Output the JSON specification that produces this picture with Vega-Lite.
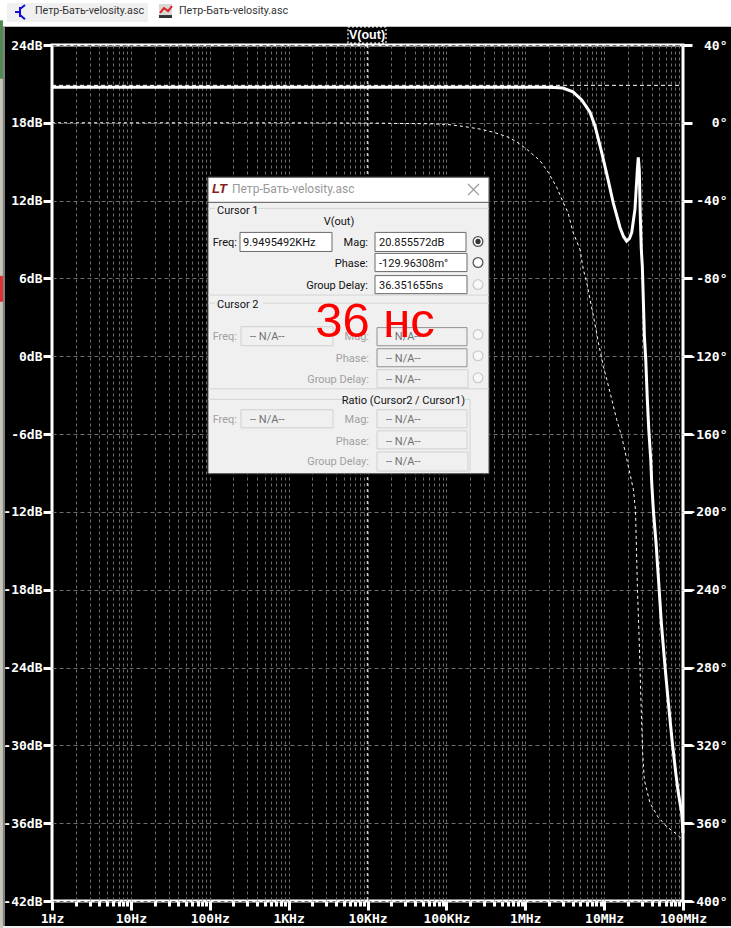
{
"$schema":"https://vega.github.io/schema/vega-lite/v6.json",
"width":631,"height":856,
"padding":{"left":52,"top":45,"right":48,"bottom":27},
"autosize":{"type":"none"},
"background":"#000000",
"config":{"view":{"stroke":"#ffffff","strokeWidth":3}},
"resolve":{"scale":{"y":"independent"},"axis":{"y":"independent"}},
"layer":[
{"resolve":{"axis":{"x":"independent","y":"independent"}},
"encoding":{
 "x":{"field":"f","type":"quantitative","scale":{"type":"log","domain":[1,100000000]},"axis":null},
 "y":{"field":"db","type":"quantitative","scale":{"domain":[-42,24]},"axis":null}},
"layer":[
{"data":{"values":[
{"f":1,"db":20.74},{"f":10,"db":20.74},{"f":100,"db":20.74},{"f":1000,"db":20.74},{"f":10000,"db":20.74},{"f":100000,"db":20.74},{"f":1000000,"db":20.74},{"f":1780000,"db":20.74},{"f":2380000,"db":20.72},{"f":3010000,"db":20.68},{"f":4030000,"db":20.39},{"f":5200000,"db":19.77},{"f":6620000,"db":18.82},{"f":7660000,"db":17.76},{"f":9310000,"db":15.73},{"f":11200000,"db":13.64},{"f":13000000,"db":11.87},{"f":15900000,"db":9.93},{"f":17600000,"db":9.24},{"f":19300000,"db":8.88},{"f":21000000,"db":9.09},{"f":22400000,"db":9.55},{"f":24600000,"db":11.33},{"f":26400000,"db":14.42},{"f":27100000,"db":15.34},{"f":27900000,"db":14.42},{"f":28700000,"db":10.95},{"f":29600000,"db":8.25},{"f":30500000,"db":6.94},{"f":31400000,"db":4.39},{"f":32400000,"db":1.54},{"f":33700000,"db":-0.24},{"f":35300000,"db":-3.33},{"f":36800000,"db":-5.64},{"f":39000000,"db":-7.96},{"f":40100000,"db":-9.73},{"f":42100000,"db":-11.89},{"f":45500000,"db":-14.36},{"f":49200000,"db":-17.45},{"f":53100000,"db":-20.54},{"f":59200000,"db":-23.94},{"f":65200000,"db":-26.71},{"f":73200000,"db":-29.8},{"f":81500000,"db":-32.27},{"f":87200000,"db":-33.66},{"f":96200000,"db":-35.2},{"f":100000000,"db":-36.75}]},
"mark":{"type":"line","color":"#ffffff","strokeWidth":3,"clip":false},
"encoding":{
 "x":{"field":"f","type":"quantitative","scale":{"type":"log","domain":[1,100000000]},
  "axis":{"orient":"bottom","title":null,"values":[2,3,4,5,6,7,8,9,10,20,30,40,50,60,70,80,90,100,200,300,400,500,600,700,800,900,1000,2000,3000,4000,5000,6000,7000,8000,9000,10000,20000,30000,40000,50000,60000,70000,80000,90000,100000,200000,300000,400000,500000,600000,700000,800000,900000,1000000,2000000,3000000,4000000,5000000,6000000,7000000,8000000,9000000,10000000,20000000,30000000,40000000,50000000,60000000,70000000,80000000,90000000],"labels":false,"domain":false,"grid":true,"gridColor":"#6e6e6e","gridDash":[3,3],"gridWidth":1,"tickColor":"#ffffff","tickWidth":3,"tickSize":5}},
 "y":{"field":"db","type":"quantitative","scale":{"domain":[-42,24]},
  "axis":{"orient":"left","title":null,"values":[24,18,12,6,0,-6,-12,-18,-24,-30,-36,-42],"labelExpr":"datum.value+'dB'","labelColor":"#ffffff","labelFont":"DejaVu Sans Mono","labelFontWeight":"bold","labelFontSize":13,"labelPadding":1,"labelOverlap":false,"labelFlush":false,"domain":false,"grid":true,"gridColor":"#6e6e6e","gridDash":[4,3],"gridWidth":1,"tickColor":"#ffffff","tickWidth":3,"tickSize":9}}}},
{"data":{"values":[{"f":1,"f2":100000000,"db":20.89}]},
"mark":{"type":"rule","color":"#ffffff","strokeWidth":1,"strokeDash":[4,3]},
"encoding":{
 "x":{"field":"f","type":"quantitative","scale":{"type":"log","domain":[1,100000000]},
  "axis":{"orient":"bottom","title":null,"values":[1,10,100,1000,10000,100000,1000000,10000000,100000000],"labelExpr":"datum.value<1000?datum.value+'Hz':datum.value<1000000?(datum.value/1000)+'KHz':(datum.value/1000000)+'MHz'","labelColor":"#ffffff","labelFont":"DejaVu Sans Mono","labelFontWeight":"bold","labelFontSize":13,"labelPadding":2,"labelOverlap":false,"labelFlush":false,"labelBound":false,"domain":false,"grid":false,"tickColor":"#ffffff","tickWidth":3,"tickSize":9}},
 "x2":{"field":"f2"}}},
{"data":{"values":[{"f":9949.5,"db":24,"db2":-42}]},
"mark":{"type":"rule","color":"#ffffff","strokeWidth":1,"strokeDash":[3,3]},
"encoding":{"y2":{"field":"db2"}}},
{"data":{"values":[{"f":0.219,"f2":406000000,"db":27.47,"db2":25.41}]},
"mark":{"type":"rect","fill":"#ffffff"},"encoding":{"x2":{"field":"f2"},"y2":{"field":"db2"}}},
{"data":{"values":[{"f":0.2688,"f2":16.5,"db":27.24,"db2":25.77},{"f":0.219,"f2":406000000,"db":-43.93,"db2":-44.1}]},
"mark":{"type":"rect","fill":"#f0f0f0"},"encoding":{"x2":{"field":"f2"},"y2":{"field":"db2"}}},
{"data":{"values":[{"f":0.219,"f2":0.239,"db":25.41,"db2":-44.1}]},
"mark":{"type":"rect","fill":"#c9c5b8"},"encoding":{"x2":{"field":"f2"},"y2":{"field":"db2"}}},
{"data":{"values":[{"f":0.239,"f2":0.2536,"db":25.41,"db2":-43.93}]},
"mark":{"type":"rect","fill":"#808080"},"encoding":{"x2":{"field":"f2"},"y2":{"field":"db2"}}},
{"data":{"values":[{"f":0.219,"f2":0.239,"db":25.9,"db2":21.4}]},
"mark":{"type":"rect","fill":"#4f8a4f"},"encoding":{"x2":{"field":"f2"},"y2":{"field":"db2"}}},
{"data":{"values":[{"f":0.219,"f2":0.239,"db":6.2,"db2":4.2}]},
"mark":{"type":"rect","fill":"#e03030"},"encoding":{"x2":{"field":"f2"},"y2":{"field":"db2"}}},
{"data":{"values":[{"f":22.7,"f2":33.2,"db":27.16,"db2":26.31}]},
"mark":{"type":"rect","fill":"#d8d8d8"},"encoding":{"x2":{"field":"f2"},"y2":{"field":"db2"}}},
{"data":{"values":[{"f":22.7,"f2":33.2,"db":26.31,"db2":26.08}]},
"mark":{"type":"rect","fill":"#333333"},"encoding":{"x2":{"field":"f2"},"y2":{"field":"db2"}}},
{"data":{"values":[{"f":23.4,"db":26.47},{"f":26.3,"db":26.85},{"f":29.6,"db":26.62},{"f":33.2,"db":27.0}]},
"mark":{"type":"line","color":"#e02020","strokeWidth":2}},
{"data":{"values":[{"f":0.393,"f2":0.393,"db":26.93,"db2":26.16},{"f":0.3396,"f2":0.393,"db":26.54,"db2":26.54},{"f":0.393,"f2":0.4547,"db":26.78,"db2":27.08},{"f":0.393,"f2":0.4547,"db":26.31,"db2":25.98}]},
"mark":{"type":"rule","color":"#1010d0","strokeWidth":2},"encoding":{"x2":{"field":"f2"},"y2":{"field":"db2"}}},
{"data":{"values":[{"f":0.6088,"db":26.62,"t":"Петр-Бать-velosity.asc"},{"f":40.75,"db":26.62,"t":"Петр-Бать-velosity.asc"}]},
"mark":{"type":"text","align":"left","baseline":"middle","font":"Roboto","fontSize":10.7,"color":"#333333"},"encoding":{"text":{"field":"t"}}},
{"data":{"values":[{"f":5660,"f2":17160,"db":25.39,"db2":24.15}]},
"mark":{"type":"rect","fill":"#000000","stroke":"#ffffff","strokeWidth":1.2,"strokeDash":[2,2]},"encoding":{"x2":{"field":"f2"},"y2":{"field":"db2"}}},
{"data":{"values":[{"f":9856,"db":24.75,"t":"V(out)"}]},
"mark":{"type":"text","align":"center","baseline":"middle","font":"Liberation Sans","fontWeight":"bold","fontSize":12.5,"color":"#ffffff"},"encoding":{"text":{"field":"t"}}},
{"data":{"values":[{"f":95,"f2":347000,"db":13.8,"db2":-9.05}]},
"mark":{"type":"rect","fill":"#f0f0f0","stroke":"#555555","strokeWidth":1},"encoding":{"x2":{"field":"f2"},"y2":{"field":"db2"}}},
{"data":{"values":[{"f":95,"f2":347000,"db":13.8,"db2":11.87}]},
"mark":{"type":"rect","fill":"#ffffff","stroke":"#555555","strokeWidth":1},"encoding":{"x2":{"field":"f2"},"y2":{"field":"db2"}}},
{"data":{"values":[
{"f":95,"f2":116.6,"db":11.4,"db2":11.4},{"f":409,"f2":347000,"db":11.4,"db2":11.4},
{"f":95,"f2":347000,"db":4.72,"db2":4.72},
{"f":95,"f2":116.6,"db":4.1,"db2":4.1},{"f":473,"f2":347000,"db":4.1,"db2":4.1},
{"f":95,"f2":347000,"db":-2.51,"db2":-2.51},
{"f":95,"f2":4891,"db":-3.32,"db2":-3.32},{"f":172300,"f2":199300,"db":-3.32,"db2":-3.32},
{"f":199300,"f2":199300,"db":-3.32,"db2":-8.92}]},
"mark":{"type":"rule","color":"#d4d4d4","strokeWidth":1},"encoding":{"x2":{"field":"f2"},"y2":{"field":"db2"}}},
{"data":{"values":[{"f":188000,"f2":259000,"db":13.28,"db2":12.43},{"f":188000,"f2":259000,"db":12.43,"db2":13.28}]},
"mark":{"type":"rule","color":"#999999","strokeWidth":1.2},"encoding":{"x2":{"field":"f2"},"y2":{"field":"db2"}}},
{"data":{"values":[
{"f":241.8,"f2":3547,"db":9.55,"db2":8.08},{"f":12450,"f2":177400,"db":9.55,"db2":8.08},{"f":12450,"f2":182600,"db":7.93,"db2":6.53},{"f":12450,"f2":182600,"db":6.22,"db2":4.83}]},
"mark":{"type":"rect","fill":"#ffffff","stroke":"#6b6b6b","strokeWidth":1},"encoding":{"x2":{"field":"f2"},"y2":{"field":"db2"}}},
{"data":{"values":[
{"f":249,"f2":3652,"db":2.28,"db2":0.81},{"f":13197,"f2":188000,"db":-1.04,"db2":-2.43},{"f":249,"f2":3652,"db":-4.13,"db2":-5.52},{"f":13197,"f2":182600,"db":-4.13,"db2":-5.52},{"f":13197,"f2":182600,"db":-5.75,"db2":-7.14},{"f":13197,"f2":188000,"db":-7.38,"db2":-8.85}]},
"mark":{"type":"rect","fill":"#f0f0f0","stroke":"#d0d0d0","strokeWidth":1},"encoding":{"x2":{"field":"f2"},"y2":{"field":"db2"}}},
{"data":{"values":[{"f":13197,"f2":182600,"db":2.21,"db2":0.81},{"f":13197,"f2":182600,"db":0.58,"db2":-0.81}]},
"mark":{"type":"rect","fill":"#f0f0f0","stroke":"#909090","strokeWidth":1},"encoding":{"x2":{"field":"f2"},"y2":{"field":"db2"}}},
{"data":{"values":[{"f":251800,"db":8.85},{"f":251800,"db":7.23}]},
"mark":{"type":"point","filled":false,"shape":"circle","fill":"#ffffff","fillOpacity":1,"stroke":"#555555","strokeWidth":1.3,"size":95}},
{"data":{"values":[{"f":251800,"db":5.53},{"f":251800,"db":1.67},{"f":251800,"db":0.04},{"f":251800,"db":-1.66}]},
"mark":{"type":"point","filled":false,"shape":"circle","fill":"#f8f8f8","fillOpacity":1,"stroke":"#cccccc","strokeWidth":1.3,"size":95}},
{"data":{"values":[{"f":251800,"db":8.85}]},
"mark":{"type":"point","filled":true,"shape":"circle","color":"#333333","opacity":1,"size":28}},
{"data":{"values":[{"f":106.8,"db":12.88,"t":"LT"}]},
"mark":{"type":"text","align":"left","baseline":"middle","font":"Liberation Sans","fontWeight":"bold","fontStyle":"italic","fontSize":13,"color":"#8a1c1c"},"encoding":{"text":{"field":"t"}}},
{"data":{"values":[{"f":191.5,"db":12.88,"t":"Петр-Бать-velosity.asc"}]},
"mark":{"type":"text","align":"left","baseline":"middle","font":"Roboto","fontSize":12,"color":"#999999"},"encoding":{"text":{"field":"t"}}},
{"data":{"values":[{"f":123.6,"db":11.2,"t":"Cursor 1"},{"f":123.6,"db":3.97,"t":"Cursor 2"},{"f":264,"db":8.75,"t":"9.9495492KHz"},{"f":13990,"db":8.75,"t":"20.855572dB"},{"f":13990,"db":7.13,"t":"-129.96308m°"},{"f":13990,"db":5.43,"t":"36.351655ns"}]},
"mark":{"type":"text","align":"left","baseline":"middle","font":"Roboto","fontSize":11,"color":"#111111"},"encoding":{"text":{"field":"t"}}},
{"data":{"values":[{"f":221.6,"db":8.75,"t":"Freq:"},{"f":10146,"db":8.75,"t":"Mag:"},{"f":10146,"db":7.13,"t":"Phase:"},{"f":10146,"db":5.43,"t":"Group Delay:"},{"f":172300,"db":-3.45,"t":"Ratio (Cursor2 / Cursor1)"}]},
"mark":{"type":"text","align":"right","baseline":"middle","font":"Roboto","fontSize":11,"color":"#111111"},"encoding":{"text":{"field":"t"}}},
{"data":{"values":[{"f":4351,"db":10.33,"t":"V(out)"}]},
"mark":{"type":"text","align":"center","baseline":"middle","font":"Roboto","fontSize":11,"color":"#111111"},"encoding":{"text":{"field":"t"}}},
{"data":{"values":[{"f":221.6,"db":1.45,"t":"Freq:"},{"f":10447,"db":1.45,"t":"Mag:"},{"f":10447,"db":-0.2,"t":"Phase:"},{"f":10447,"db":-1.83,"t":"Group Delay:"},{"f":221.6,"db":-4.92,"t":"Freq:"},{"f":10447,"db":-4.92,"t":"Mag:"},{"f":10447,"db":-6.62,"t":"Phase:"},{"f":10447,"db":-8.16,"t":"Group Delay:"}]},
"mark":{"type":"text","align":"right","baseline":"middle","font":"Roboto","fontSize":11,"color":"#a0a0a0"},"encoding":{"text":{"field":"t"}}},
{"data":{"values":[{"f":323.7,"db":1.45,"t":"-- N/A--"},{"f":17160,"db":1.45,"t":"-- N/A--"},{"f":17160,"db":-0.2,"t":"-- N/A--"},{"f":17160,"db":-1.83,"t":"-- N/A--"},{"f":323.7,"db":-4.92,"t":"-- N/A--"},{"f":17160,"db":-4.92,"t":"-- N/A--"},{"f":17160,"db":-6.62,"t":"-- N/A--"},{"f":17160,"db":-8.16,"t":"-- N/A--"}]},
"mark":{"type":"text","align":"left","baseline":"middle","font":"Roboto","fontSize":11,"color":"#707070"},"encoding":{"text":{"field":"t"}}},
{"data":{"values":[{"f":12450,"db":1.51,"t":"36 нс"}]},
"mark":{"type":"text","align":"center","baseline":"alphabetic","font":"Liberation Sans","fontSize":49,"color":"#ff0000"},"encoding":{"text":{"field":"t"}}}
]},
{"data":{"values":[
{"f":1,"deg":0},{"f":100,"deg":0},{"f":1000,"deg":-0.01},{"f":10000,"deg":-0.13},{"f":61950,"deg":-0.5},{"f":101000,"deg":-0.8},{"f":163000,"deg":-1.84},{"f":267000,"deg":-3.2},{"f":390000,"deg":-4.8},{"f":582000,"deg":-7},{"f":780000,"deg":-9.8},{"f":1040000,"deg":-13.5},{"f":1540000,"deg":-19.5},{"f":1960000,"deg":-25.5},{"f":2510000,"deg":-33.2},{"f":3030000,"deg":-41},{"f":3480000,"deg":-46},{"f":4030000,"deg":-56.2},{"f":4940000,"deg":-65},{"f":5440000,"deg":-75.3},{"f":6010000,"deg":-82},{"f":6620000,"deg":-90.7},{"f":7450000,"deg":-101},{"f":8440000,"deg":-112.8},{"f":9770000,"deg":-125.2},{"f":10800000,"deg":-131.9},{"f":12500000,"deg":-142.2},{"f":14400000,"deg":-152.5},{"f":16700000,"deg":-161.2},{"f":20300000,"deg":-176.6},{"f":23500000,"deg":-188.5},{"f":25000000,"deg":-199.3},{"f":26400000,"deg":-238.4},{"f":27900000,"deg":-267.2},{"f":29100000,"deg":-293},{"f":30800000,"deg":-323.8},{"f":32100000,"deg":-336.2},{"f":33000000,"deg":-339.3},{"f":38100000,"deg":-349.6},{"f":48200000,"deg":-356.8},{"f":62700000,"deg":-361.9},{"f":79300000,"deg":-365},{"f":100000000,"deg":-368.6}]},
"mark":{"type":"line","color":"#ffffff","strokeWidth":1,"strokeDash":[3,3]},
"encoding":{
 "x":{"field":"f","type":"quantitative","scale":{"type":"log","domain":[1,100000000]},"axis":null},
 "y":{"field":"deg","type":"quantitative","scale":{"domain":[-400,40]},
  "axis":{"orient":"right","title":null,"values":[40,0,-40,-80,-120,-160,-200,-240,-280,-320,-360,-400],"labelExpr":"datum.value+'°'","labelColor":"#ffffff","labelFont":"DejaVu Sans Mono","labelFontWeight":"bold","labelFontSize":13,"labelAlign":"right","labelPadding":35,"labelOverlap":false,"labelFlush":false,"domain":false,"grid":false,"tickColor":"#ffffff","tickWidth":3,"tickSize":9}}}}
]}
